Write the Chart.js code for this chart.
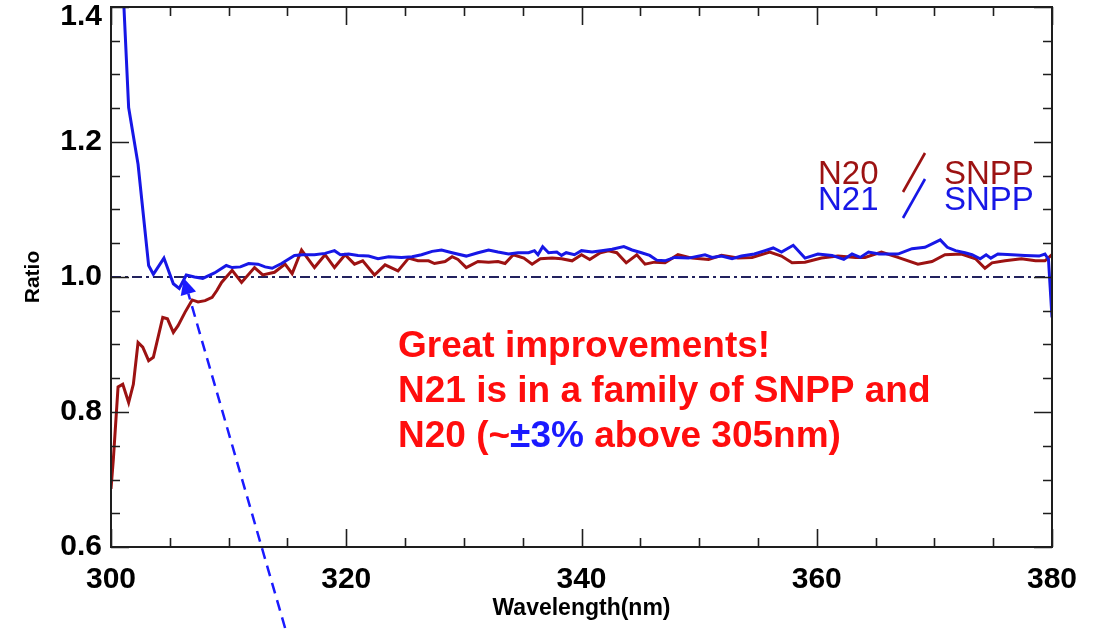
<!DOCTYPE html>
<html>
<head>
<meta charset="utf-8">
<script src="https://cdn.jsdelivr.net/npm/chart.js@4/dist/chart.umd.min.js"></script>
<style>
html,body{margin:0;padding:0;background:#fff;}
canvas{display:block;}
</style>
</head>
<body>
<canvas id="c" width="1104" height="629"></canvas>
<script>
// ---- data ----
const n20Wavelength = [300.0,300.2,300.6,301.0,301.5,301.9,302.3,302.7,303.2,303.6,304.4,304.8,305.3,305.7,306.3,306.9,307.4,308.0,308.6,309.0,309.4,310.3,311.1,312.2,312.9,313.9,314.8,315.4,316.2,317.3,318.2,319.0,319.9,320.7,321.4,322.4,323.3,324.4,325.3,326.1,327.0,327.5,328.4,329.0,329.5,330.2,331.2,332.1,332.9,333.5,334.2,335.1,335.8,336.5,337.5,338.3,339.2,340.0,340.7,341.6,342.3,343.0,343.8,344.7,345.4,346.2,347.1,348.2,349.4,350.8,351.9,353.3,354.5,356.0,357.0,357.9,359.0,360.4,361.8,363.3,364.1,365.5,366.9,368.6,369.8,370.9,372.3,373.5,374.3,374.9,376.0,377.4,378.6,379.4,380.0];
const n20Ratio = [0.686,0.730,0.837,0.841,0.814,0.841,0.903,0.896,0.876,0.881,0.940,0.938,0.918,0.928,0.948,0.966,0.963,0.965,0.970,0.980,0.992,1.010,0.992,1.014,1.003,1.007,1.019,1.005,1.040,1.014,1.033,1.014,1.033,1.019,1.024,1.003,1.018,1.009,1.028,1.024,1.024,1.020,1.023,1.030,1.026,1.014,1.023,1.022,1.023,1.020,1.033,1.028,1.019,1.027,1.028,1.027,1.024,1.033,1.026,1.036,1.039,1.036,1.021,1.033,1.019,1.022,1.021,1.033,1.028,1.026,1.032,1.028,1.029,1.037,1.031,1.021,1.022,1.028,1.031,1.029,1.029,1.037,1.029,1.019,1.023,1.033,1.034,1.027,1.013,1.021,1.024,1.027,1.024,1.024,1.033];

const n21Wavelength = [300.6,301.1,301.5,302.3,303.2,303.6,304.5,305.3,305.8,306.4,307.1,307.8,308.8,309.8,310.3,311.0,311.7,312.5,313.1,313.7,314.5,315.6,316.3,317.3,318.2,319.0,319.5,320.2,321.0,321.9,322.7,323.6,324.7,325.6,326.4,327.3,328.1,329.0,330.2,331.2,332.1,332.9,333.8,334.6,335.5,336.0,336.3,336.7,337.2,337.9,338.3,338.7,339.4,340.0,340.9,341.7,342.6,343.6,344.3,345.1,345.8,346.4,347.1,347.9,349.1,350.5,351.1,351.9,352.8,353.6,354.7,355.6,356.3,357.0,358.0,359.0,360.1,361.3,362.3,363.0,363.7,364.4,365.3,366.9,368.1,369.2,370.5,371.1,371.8,372.6,373.2,373.9,374.4,374.8,375.4,376.6,377.7,378.9,379.4,379.7,380.0];
const n21Ratio = [1.60,1.40,1.251,1.167,1.017,1.004,1.028,0.990,0.983,1.003,1.000,0.998,1.006,1.017,1.014,1.015,1.020,1.019,1.015,1.013,1.020,1.032,1.033,1.033,1.035,1.039,1.033,1.034,1.032,1.031,1.027,1.030,1.029,1.030,1.033,1.038,1.040,1.036,1.031,1.036,1.040,1.037,1.034,1.036,1.036,1.039,1.033,1.045,1.036,1.037,1.032,1.036,1.033,1.039,1.037,1.039,1.041,1.045,1.040,1.036,1.032,1.025,1.024,1.029,1.028,1.033,1.029,1.031,1.027,1.031,1.034,1.039,1.043,1.037,1.047,1.028,1.034,1.032,1.026,1.034,1.029,1.037,1.034,1.034,1.042,1.044,1.055,1.044,1.039,1.036,1.033,1.027,1.033,1.028,1.034,1.033,1.032,1.031,1.034,1.026,0.94];

const referenceLevel = 1.0;
const xRange = [300, 380];
const yRange = [0.6, 1.4];
const xMajorStep = 20, xMinorStep = 5;
const yMajorStep = 0.2, yMinorStep = 0.05;
const legendLabels = [["N20", "SNPP"], ["N21", "SNPP"]];
const noteLines = ["Great improvements!", "N21 is in a family of SNPP and"];
const noteLine3 = ["N20 (~", "\u00B13%", " above 305nm)"];
const arrowTip = {x: 306.2, y: 0.998};
const arrowTail = {x: 314.8, y: 0.48};

const RED = '#9c1212';
const BLUE = '#1717e6';
const NAVY = '#22225e';
const AXIS_FONT = '"Liberation Sans", Arial, sans-serif';

function pts(xs, ys){ return xs.map((x,i)=>({x:x, y:ys[i]})); }

const frameTicks = {
  id: 'frameTicks',
  afterDatasetsDraw(chart){
    const {ctx, chartArea:a, scales:{x, y}} = chart;
    ctx.save();
    ctx.strokeStyle = '#1e1e1e';
    ctx.lineWidth = 1.6;
    for (let k = 0; ; k++){
      const v = xRange[0] + k*xMinorStep;
      if (v > xRange[1] + 1e-9) break;
      const px = Math.round(x.getPixelForValue(v)) + 0.5;
      const major = Math.abs(v % xMajorStep) < 1e-6;
      const L = major ? 18 : 9;
      ctx.beginPath();
      ctx.moveTo(px, a.bottom); ctx.lineTo(px, a.bottom - L);
      ctx.moveTo(px, a.top); ctx.lineTo(px, a.top + L);
      ctx.stroke();
    }
    for (let k = 0; ; k++){
      const v = yRange[0] + k*yMinorStep;
      if (v > yRange[1] + 1e-9) break;
      const py = Math.round(y.getPixelForValue(v)) + 0.5;
      const r = (v - yRange[0]) / yMajorStep;
      const major = Math.abs(r - Math.round(r)) < 1e-6;
      const L = major ? 18 : 9;
      ctx.beginPath();
      ctx.moveTo(a.left, py); ctx.lineTo(a.left + L, py);
      ctx.moveTo(a.right, py); ctx.lineTo(a.right - L, py);
      ctx.stroke();
    }
    ctx.lineWidth = 2;
    ctx.strokeRect(a.left, a.top, a.right - a.left, a.bottom - a.top);
    ctx.restore();
  },
  afterDraw(chart){
    const {ctx, scales:{x, y}} = chart;
    ctx.save();
    // legend
    ctx.font = '33px "Liberation Sans", Arial, sans-serif';
    ctx.textBaseline = 'alphabetic';
    const legendColors = [RED, BLUE];
    const baseY = [184, 210];
    legendLabels.forEach((lab, i) => {
      ctx.fillStyle = legendColors[i];
      ctx.textAlign = 'left';
      ctx.fillText(lab[0], 818, baseY[i]);
      ctx.fillText(lab[1], 944, baseY[i]);
      ctx.strokeStyle = legendColors[i];
      ctx.lineWidth = 2.6;
      ctx.beginPath();
      ctx.moveTo(925, baseY[i] - 31);
      ctx.lineTo(903, baseY[i] + 8);
      ctx.stroke();
    });
    // note text
    ctx.font = 'bold 37px "Liberation Sans", Arial, sans-serif';
    ctx.fillStyle = '#ff0d0d';
    const nx = 398;
    ctx.fillText(noteLines[0], nx, 357);
    ctx.fillText(noteLines[1], nx, 402);
    let cx = nx;
    const cols = ['#ff0d0d', '#1a1aff', '#ff0d0d'];
    noteLine3.forEach((t, i) => {
      ctx.fillStyle = cols[i];
      ctx.fillText(t, cx, 447);
      cx += ctx.measureText(t).width;
    });
    // arrow
    const tx = x.getPixelForValue(arrowTip.x), ty = y.getPixelForValue(arrowTip.y);
    const sx = x.getPixelForValue(arrowTail.x), sy = y.getPixelForValue(arrowTail.y);
    const ang = Math.atan2(ty - sy, tx - sx);
    const headL = 16, headW = 8;
    const bx = tx - headL*Math.cos(ang), by = ty - headL*Math.sin(ang);
    ctx.strokeStyle = '#1a1aff';
    ctx.fillStyle = '#1a1aff';
    ctx.lineWidth = 2.5;
    ctx.setLineDash([11, 7]);
    ctx.beginPath();
    ctx.moveTo(sx, sy); ctx.lineTo(bx, by);
    ctx.stroke();
    ctx.setLineDash([]);
    ctx.beginPath();
    ctx.moveTo(tx, ty);
    ctx.lineTo(bx + headW*Math.sin(ang), by - headW*Math.cos(ang));
    ctx.lineTo(bx - headW*Math.sin(ang), by + headW*Math.cos(ang));
    ctx.closePath();
    ctx.fill();
    ctx.restore();
  }
};

new Chart(document.getElementById('c'), {
  type: 'line',
  data: {
    datasets: [
      { label: 'reference', data: [{x:xRange[0], y:referenceLevel},{x:xRange[1], y:referenceLevel}],
        borderColor: NAVY, borderWidth: 1.8, borderDash: [10,4,3,4], pointRadius: 0, order: 3 },
      { label: 'N20 / SNPP', data: pts(n20Wavelength, n20Ratio), borderColor: RED, borderWidth: 3,
        pointRadius: 0, tension: 0, order: 2 },
      { label: 'N21 / SNPP', data: pts(n21Wavelength, n21Ratio), borderColor: BLUE, borderWidth: 3,
        pointRadius: 0, tension: 0, order: 1 }
    ]
  },
  options: {
    responsive: false,
    animation: false,
    layout: { padding: { left: 0, right: 52, top: 7, bottom: 0 } },
    plugins: { legend: { display: false }, tooltip: { enabled: false } },
    scales: {
      x: {
        type: 'linear', min: xRange[0], max: xRange[1],
        grid: { display: false, drawTicks: false },
        border: { display: false },
        ticks: { stepSize: xMajorStep, padding: 15, color: '#000',
                 font: { family: AXIS_FONT, size: 30, weight: 'bold' },
                 maxRotation: 0 },
        title: { display: true, text: 'Wavelength(nm)', color: '#000', padding: { top: 0, bottom: 7 },
                 font: { family: AXIS_FONT, size: 23, weight: 'bold' } },
        afterFit(s){ s.height = 82; s.paddingLeft = 0; s.paddingRight = 0; }
      },
      y: {
        type: 'linear', min: yRange[0], max: yRange[1],
        grid: { display: false, drawTicks: false },
        border: { display: false },
        ticks: { stepSize: yMajorStep, padding: 9, color: '#000',
                 font: ctx => ({ family: AXIS_FONT, size: 30, weight: 'bold',
                                 lineHeight: (ctx.tick && Math.abs(ctx.tick.value - yRange[1]) < 1e-6) ? 0.65 : 1.2 }),
                 callback: v => Math.abs(v - yRange[1]) < 1e-6 ? ['', Number(v).toFixed(1)] : Number(v).toFixed(1) },
        title: { display: true, text: 'Ratio', color: '#000', padding: { top: 21, bottom: 0 },
                 font: { family: AXIS_FONT, size: 21, weight: 'bold' } },
        afterFit(s){ s.width = 111; s.paddingTop = 0; s.paddingBottom = 0; }
      }
    }
  },
  plugins: [frameTicks]
});
</script>
</body>
</html>
